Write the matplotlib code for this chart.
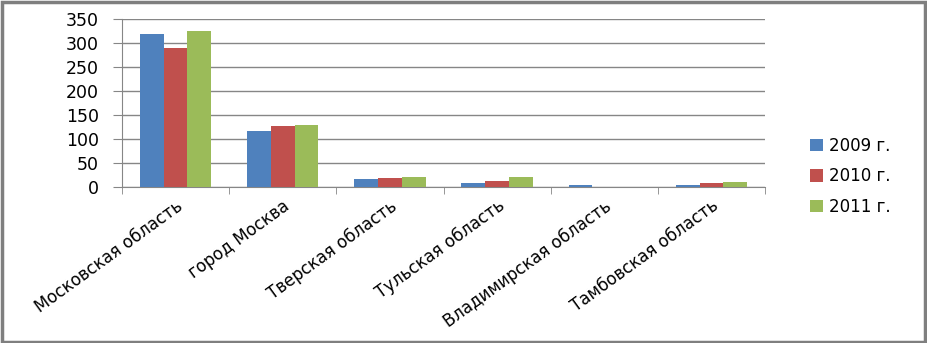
import matplotlib
matplotlib.use("Agg")
import matplotlib.pyplot as plt
import numpy as np
from matplotlib.patches import Rectangle

categories = ["Московская область", "город Москва", "Тверская область",
              "Тульская область", "Владимирская область", "Тамбовская область"]
series_names = ["2009 г.", "2010 г.", "2011 г."]
v2009 = [318, 117, 16, 9, 4, 4]
v2010 = [290, 128, 19, 13, 0, 8]
v2011 = [325, 129, 20, 20, 0, 11]
colors = ["#4F81BD", "#C0504D", "#9BBB59"]
yticks = [0, 50, 100, 150, 200, 250, 300, 350]

plt.rcParams['font.family'] = ['DejaVu Sans']

W, H = 927, 343
fig = plt.figure(figsize=(W/100, H/100), dpi=100)
ax = fig.add_axes([122/W, 1-187/H, (765-122)/W, (187-19)/H])

x = np.arange(len(categories))
bw = (2/3)/3
for i, (vals, name, c) in enumerate(zip([v2009, v2010, v2011], series_names, colors)):
    ax.bar(x + (i-1)*bw, vals, width=bw, color=c, label=name, zorder=3)

ax.set_xlim(-0.5, len(categories)-0.5)
ax.set_ylim(0, 350)
ax.set_yticks(yticks)
ax.set_yticklabels([str(t) for t in yticks], fontsize=12.5)
ax.yaxis.grid(True, color="#868686", linewidth=1, zorder=0)
ax.set_axisbelow(True)

ax.set_xticks(x)
ax.set_xticklabels(categories, rotation=36, ha='right', rotation_mode='anchor', fontsize=12)
ax.set_xticks(np.arange(-0.5, len(categories)), minor=True)
ax.tick_params(axis='x', which='major', length=0, pad=7)
ax.tick_params(axis='x', which='minor', length=5, color="#868686", direction='out')
ax.tick_params(axis='y', length=6.5, color="#868686", pad=10)

for s in ['top', 'right']:
    ax.spines[s].set_visible(False)
ax.spines['left'].set_color("#868686")
ax.spines['bottom'].set_color("#868686")

leg = ax.legend(loc='upper left', bbox_to_anchor=(803/W, 1-130/H), bbox_transform=fig.transFigure,
                frameon=False, fontsize=12, handlelength=0.8, handleheight=0.8,
                handletextpad=0.35, labelspacing=0.75, borderaxespad=0)

fig.patches.append(Rectangle((1.5/W, 1.5/H), 1-3.5/W, 1-3/H, transform=fig.transFigure,
                             fill=False, edgecolor="#7f7f7f", linewidth=2.5))

fig.savefig("out.png", dpi=100)
